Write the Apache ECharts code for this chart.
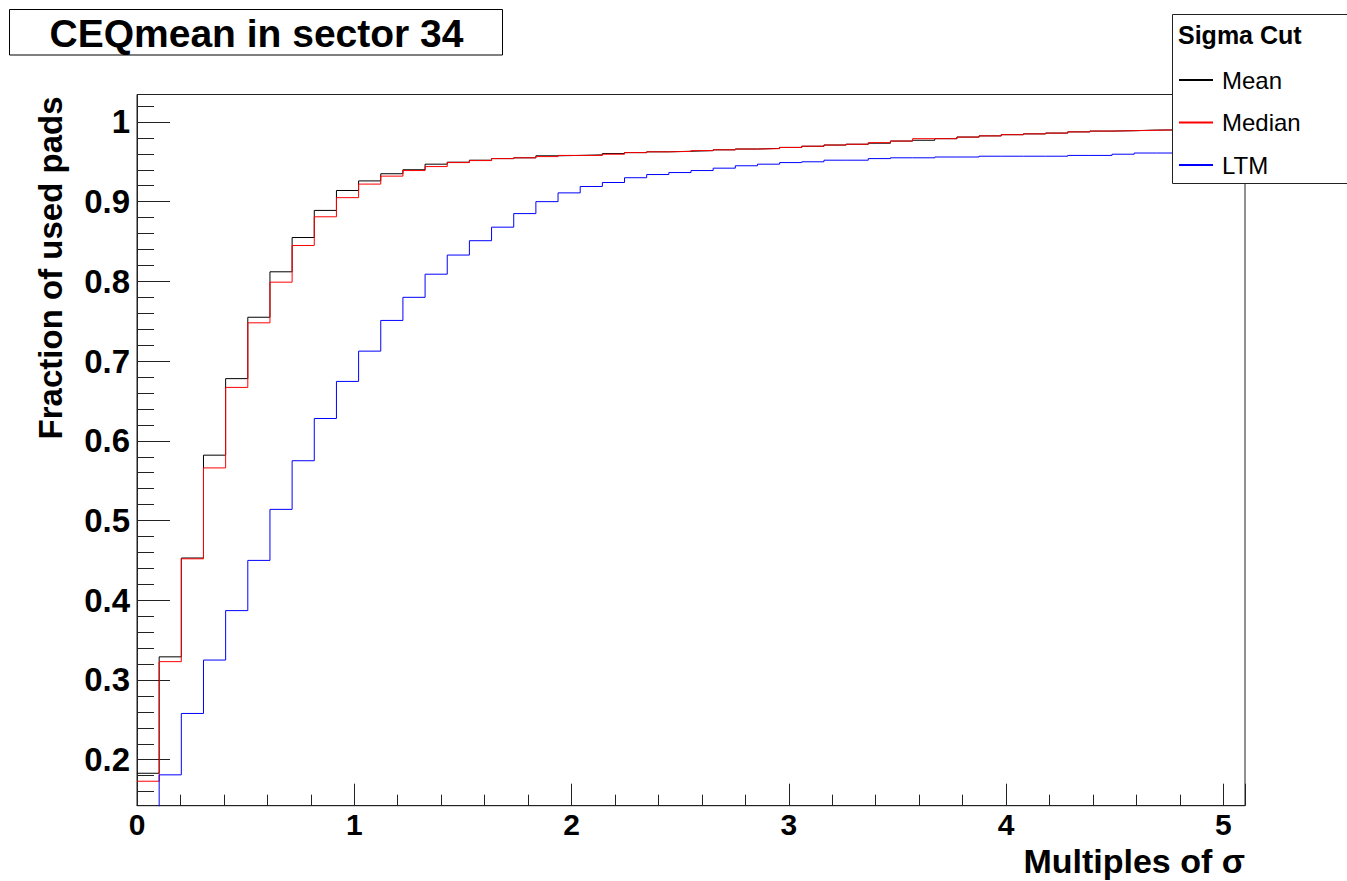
<!DOCTYPE html>
<html>
<head>
<meta charset="utf-8">
<title>CEQmean in sector 34</title>
<script src="https://cdn.jsdelivr.net/npm/echarts@6.0.0/dist/echarts.min.js"></script>
<style>
  html, body { margin: 0; padding: 0; background: #fff; }
  #chart { width: 1347px; height: 881px; }
</style>
</head>
<body>
<div id="chart"></div>
<script>
// ---- Histogram binning (50 bins from 0 to 5.1) ----
const BIN_MIN = 0;
const BIN_MAX = 5.1;
const N_BINS = 50;

// ---- Series names ----
const seriesNames = ['Mean', 'Median', 'LTM'];

// ---- Bin contents (fraction of used pads) ----
const meanValues = [
  0.183, 0.329, 0.453, 0.582, 0.678, 0.755, 0.812, 0.855, 0.889, 0.914,
  0.926, 0.935, 0.940, 0.947, 0.9495, 0.952, 0.954, 0.955, 0.9575, 0.958,
  0.9587, 0.9603, 0.9615, 0.9625, 0.9632, 0.964, 0.965, 0.966, 0.9668, 0.968,
  0.9695, 0.971, 0.972, 0.9733, 0.976, 0.977, 0.979, 0.981, 0.9825, 0.984,
  0.985, 0.986, 0.9875, 0.9885, 0.989, 0.9898, 0.990, 0.991, 0.992, 0.993
];
const medianValues = [
  0.173, 0.323, 0.452, 0.566, 0.667, 0.748, 0.799, 0.845, 0.881, 0.905,
  0.922, 0.932, 0.939, 0.944, 0.949, 0.9515, 0.954, 0.955, 0.9565, 0.958,
  0.958, 0.9595, 0.9615, 0.9625, 0.963, 0.964, 0.965, 0.966, 0.9665, 0.968,
  0.9695, 0.971, 0.972, 0.974, 0.976, 0.979, 0.979, 0.981, 0.9825, 0.984,
  0.985, 0.986, 0.9875, 0.9885, 0.989, 0.9895, 0.990, 0.991, 0.992, 0.993
];
const ltmValues = [
  0.12, 0.181, 0.258, 0.325, 0.387, 0.450, 0.514, 0.575, 0.628, 0.6745,
  0.7125, 0.751, 0.780, 0.809, 0.833, 0.851, 0.868, 0.885, 0.900, 0.911,
  0.919, 0.924, 0.930, 0.934, 0.9365, 0.939, 0.942, 0.945, 0.947, 0.949,
  0.950, 0.952, 0.952, 0.954, 0.955, 0.955, 0.956, 0.956, 0.957, 0.957,
  0.957, 0.957, 0.958, 0.958, 0.9595, 0.961, 0.961, 0.962, 0.962, 0.963
];

// ---- Axis ranges and ticks ----
const X_MIN = 0, X_MAX = 5.1, X_INTERVAL = 1;
const Y_MIN = 0.1423, Y_MAX = 1.0344;
const xTickLabels = ['0', '1', '2', '3', '4', '5'];
const yTickLabels = ['0.2', '0.3', '0.4', '0.5', '0.6', '0.7', '0.8', '0.9', '1'];

// Bin edges and step points (last edge repeats last bin content)
function histPoints(values) {
  const w = (BIN_MAX - BIN_MIN) / N_BINS;
  const pts = [];
  for (let i = 0; i <= N_BINS; i++) {
    pts.push([+(BIN_MIN + i * w).toFixed(6), values[Math.min(i, N_BINS - 1)]]);
  }
  return pts;
}

const FONT = "'Liberation Sans', Arial, Helvetica, sans-serif";
const colors = ['#000000', '#ff0000', '#0000ff'];
const allValues = [meanValues, medianValues, ltmValues];

const chart = echarts.init(document.getElementById('chart'), null, { renderer: 'svg' });

const option = {
  animation: false,
  backgroundColor: '#ffffff',
  title: {
    text: 'CEQmean in sector 34',
    left: 256.5,
    top: 13.5,
    padding: 0,
    textAlign: 'center',
    textStyle: { fontFamily: FONT, fontSize: 39, fontWeight: 'bold', color: '#000', lineHeight: 39 },
    z: 21
  },
  grid: {
    left: 137, top: 94.5, right: 102, bottom: 75.3,
    show: true, borderColor: '#222', borderWidth: 1, backgroundColor: 'transparent',
    outerBoundsMode: 'none', containLabel: false
  },
  xAxis: {
    type: 'value',
    min: X_MIN, max: X_MAX, interval: X_INTERVAL,
    name: 'Multiples of σ',
    nameLocation: 'end',
    nameGap: 0,
    nameMoveOverlap: false,
    nameTextStyle: {
      fontFamily: FONT, fontSize: 34, fontWeight: 'bold', color: '#000',
      align: 'right', verticalAlign: 'top', lineHeight: 34, padding: [38.6, 0, 0, 0]
    },
    axisLine: { show: true, onZero: false, lineStyle: { color: '#222', width: 1 } },
    axisTick: { show: true, inside: true, length: 22, lineStyle: { color: '#222', width: 1 } },
    minorTick: { show: true, splitNumber: 5, length: 11, lineStyle: { color: '#222', width: 1 } },
    splitLine: { show: false },
    axisLabel: {
      show: true, margin: 5.3, fontFamily: FONT, fontSize: 30, fontWeight: 'bold', color: '#000',
      lineHeight: 26,
      formatter: function (v) {
        const r = Math.round(v);
        if (Math.abs(v - r) > 1e-6) return '';
        const idx = xTickLabels.indexOf(String(r));
        return idx >= 0 ? xTickLabels[idx] : '';
      }
    }
  },
  yAxis: {
    type: 'value',
    min: Y_MIN, max: Y_MAX, splitNumber: 9,
    name: 'Fraction of used pads',
    nameLocation: 'end',
    nameRotate: 90,
    nameGap: -2,
    nameMoveOverlap: false,
    nameTextStyle: {
      fontFamily: FONT, fontSize: 33, fontWeight: 'bold', color: '#000',
      align: 'right', verticalAlign: 'bottom', lineHeight: 33, padding: [0, 0, 70, 0]
    },
    axisLine: { show: true, lineStyle: { color: '#222', width: 1 } },
    axisTick: { show: true, inside: true, length: 33, lineStyle: { color: '#222', width: 1 } },
    minorTick: { show: true, splitNumber: 5, length: 17, lineStyle: { color: '#222', width: 1 } },
    splitLine: { show: false },
    axisLabel: {
      show: true, margin: 7, fontFamily: FONT, fontSize: 33, fontWeight: 'bold', color: '#000',
      formatter: function (v) {
        const r = Math.round(v * 10) / 10;
        if (Math.abs(v - r) > 1e-6) return '';
        const s = (r === 1) ? '1' : r.toFixed(1);
        return yTickLabels.indexOf(s) >= 0 ? s : '';
      }
    }
  },
  legend: {
    orient: 'vertical',
    left: 1179, top: 65, padding: 0,
    itemWidth: 34, itemHeight: 2, itemGap: 12.5,
    icon: 'rect',
    selectedMode: false,
    data: seriesNames,
    textStyle: { fontFamily: FONT, fontSize: 24, color: '#000', lineHeight: 30, padding: [0, 0, 0, 4] },
    z: 22
  },
  graphic: [
    {
      type: 'rect', z: 20,
      shape: { x: 9.5, y: 9.5, width: 493, height: 45.5 },
      style: { fill: '#fff', stroke: '#000', lineWidth: 1 }
    },
    {
      type: 'rect', z: 20,
      shape: { x: 1172.5, y: 14.5, width: 180, height: 169 },
      style: { fill: '#fff', stroke: '#222', lineWidth: 1 }
    },
    {
      type: 'text', z: 22,
      x: 1178, y: 35,
      style: { text: 'Sigma Cut', font: "bold 25px " + FONT, fill: '#000', textVerticalAlign: 'middle', textAlign: 'left' }
    }
  ],
  series: seriesNames.map(function (name, i) {
    return {
      name: name,
      type: 'line',
      step: 'end',
      symbol: 'none',
      clip: true,
      color: colors[i],
      itemStyle: { color: colors[i] },
      lineStyle: { color: colors[i], width: 1 },
      data: histPoints(allValues[i]),
      z: 2 + i
    };
  })
};

chart.setOption(option);
</script>
</body>
</html>
